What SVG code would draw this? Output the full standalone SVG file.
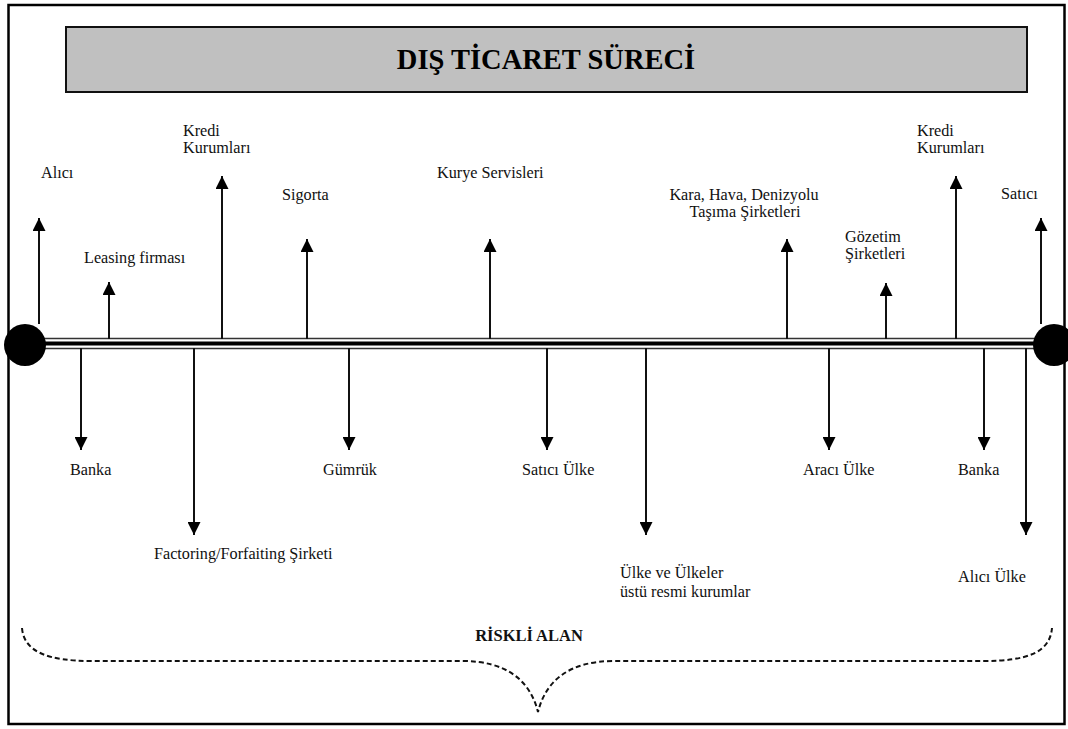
<svg xmlns="http://www.w3.org/2000/svg" width="1068" height="729" viewBox="0 0 1068 729">
  <style>
    .lbl { font-family: "Liberation Serif", "Times New Roman", serif; font-size: 16.2px; fill: #111; }
    .title { font-family: "Liberation Serif", "Times New Roman", serif; font-size: 28.5px; font-weight: bold; fill: #000; }
    .risk { font-family: "Liberation Serif", "Times New Roman", serif; font-size: 16.5px; font-weight: bold; fill: #111; }
    .arr { stroke: #111; stroke-width: 2; fill: none; marker-end: url(#head); }
  </style>
  <defs>
    <marker id="head" viewBox="0 0 13 13" markerWidth="13" markerHeight="13" markerUnits="userSpaceOnUse" refX="13" refY="6.5" orient="auto">
      <path d="M0,0 L13,6.5 L0,13 z" fill="#000"/>
    </marker>
  </defs>

  <rect width="1068" height="729" fill="#fff"/>

  <!-- outer frame -->
  <rect id="frame" x="8.5" y="5" width="1056" height="719" fill="none" stroke="#000" stroke-width="2.5"/>

  <!-- title bar -->
  <g id="title">
    <rect x="66" y="27" width="961" height="65" fill="#c0c0c0" stroke="#111" stroke-width="2"/>
    <text class="title" x="546" y="69" text-anchor="middle">DIŞ TİCARET SÜRECİ</text>
  </g>

  <!-- timeline -->
  <g id="timeline">
    <line x1="25" y1="338.5" x2="1054" y2="338.5" stroke="#333" stroke-width="1.6"/>
    <line x1="25" y1="343.5" x2="1054" y2="343.5" stroke="#000" stroke-width="4"/>
    <line x1="25" y1="348.5" x2="1054" y2="348.5" stroke="#333" stroke-width="1.6"/>
  </g>

  <!-- connectors -->
  <g id="connectors">
    <line class="arr" x1="39" y1="324" x2="39" y2="218"/>
    <line class="arr" x1="109" y1="339" x2="109" y2="282"/>
    <line class="arr" x1="222" y1="339" x2="222" y2="176"/>
    <line class="arr" x1="307" y1="339" x2="307" y2="239"/>
    <line class="arr" x1="490" y1="339" x2="490" y2="239"/>
    <line class="arr" x1="787" y1="339" x2="787" y2="239"/>
    <line class="arr" x1="886" y1="339" x2="886" y2="283"/>
    <line class="arr" x1="956" y1="339" x2="956" y2="176"/>
    <line class="arr" x1="1041" y1="324" x2="1041" y2="218"/>

    <line class="arr" x1="81" y1="348" x2="81" y2="450"/>
    <line class="arr" x1="194" y1="348" x2="194" y2="535"/>
    <line class="arr" x1="349" y1="348" x2="349" y2="450"/>
    <line class="arr" x1="547" y1="348" x2="547" y2="450"/>
    <line class="arr" x1="646" y1="348" x2="646" y2="535"/>
    <line class="arr" x1="829" y1="348" x2="829" y2="450"/>
    <line class="arr" x1="984" y1="348" x2="984" y2="450"/>
    <line class="arr" x1="1026" y1="348" x2="1026" y2="535"/>
  </g>

  <g id="start-point"><circle cx="25" cy="345" r="21" fill="#000"/></g>
  <g id="end-point"><circle cx="1054" cy="345" r="21" fill="#000"/></g>

  <!-- upper actors -->
  <g id="alici"><text class="lbl" x="41" y="178">Alıcı</text></g>
  <g id="leasing"><text class="lbl" x="84" y="263">Leasing firması</text></g>
  <g id="kredi-1"><text class="lbl" x="183" y="136">Kredi</text><text class="lbl" x="183" y="153">Kurumları</text></g>
  <g id="sigorta"><text class="lbl" x="282" y="200">Sigorta</text></g>
  <g id="kurye"><text class="lbl" x="437" y="178">Kurye Servisleri</text></g>
  <g id="tasima">
    <text class="lbl" x="744" y="200" text-anchor="middle">Kara, Hava, Denizyolu</text>
    <text class="lbl" x="745" y="217" text-anchor="middle">Taşıma Şirketleri</text>
  </g>
  <g id="gozetim"><text class="lbl" x="845" y="242">Gözetim</text><text class="lbl" x="845" y="259">Şirketleri</text></g>
  <g id="kredi-2"><text class="lbl" x="917" y="136">Kredi</text><text class="lbl" x="917" y="153">Kurumları</text></g>
  <g id="satici"><text class="lbl" x="1001" y="199">Satıcı</text></g>

  <!-- lower actors -->
  <g id="banka-1"><text class="lbl" x="70" y="475">Banka</text></g>
  <g id="factoring"><text class="lbl" x="154" y="559">Factoring/Forfaiting Şirketi</text></g>
  <g id="gumruk"><text class="lbl" x="323" y="475">Gümrük</text></g>
  <g id="satici-ulke"><text class="lbl" x="522" y="475">Satıcı Ülke</text></g>
  <g id="ulkeler"><text class="lbl" x="620" y="578">Ülke ve Ülkeler</text><text class="lbl" x="620" y="597">üstü resmi kurumlar</text></g>
  <g id="araci-ulke"><text class="lbl" x="803" y="475">Aracı Ülke</text></g>
  <g id="banka-2"><text class="lbl" x="958" y="475">Banka</text></g>
  <g id="alici-ulke"><text class="lbl" x="958" y="582">Alıcı Ülke</text></g>

  <!-- risk zone brace -->
  <g id="riskli-alan">
    <text class="risk" x="529" y="641" text-anchor="middle">RİSKLİ ALAN</text>
    <path d="M22,628 C24,652 48,661 92,661 L462,661 C506,661 530,680 538,712 C546,680 570,661 614,661 L984,661 C1028,661 1050,652 1052,628" fill="none" stroke="#111" stroke-width="2" stroke-dasharray="5,3"/>
  </g>
</svg>
